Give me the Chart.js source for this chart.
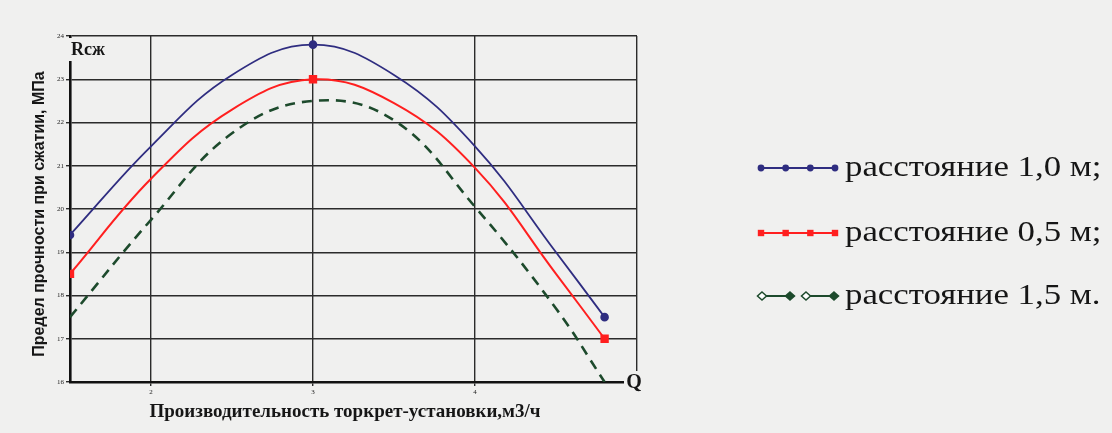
<!DOCTYPE html>
<html lang="ru">
<head>
<meta charset="utf-8">
<title>Предел прочности при сжатии</title>
<script src="https://cdn.jsdelivr.net/npm/chart.js@4.4.1/dist/chart.umd.min.js"></script>
<style>
  html, body { margin: 0; padding: 0; background: #f0f0ef; }
  #wrap { width: 1112px; height: 433px; }
</style>
</head>
<body>
<div id="wrap"><canvas id="c" width="1112" height="433"></canvas></div>
<script>
// Производительность торкрет-установки, м3/ч
const productivity = [1.5, 2, 2.5, 3, 3.5, 4, 4.5, 4.8];
// Предел прочности при сжатии, МПа
const dist10 = [19.4, 21.45, 23.1, 23.8, 23.1, 21.45, 19.0, 17.5];
const dist05 = [18.5, 20.7, 22.3, 23.0, 22.45, 20.95, 18.5, 17.0];
const dist15 = [17.5, 19.75, 21.75, 22.5, 22.05, 20.05, 17.7, 16.0];
const seriesLabels = ['расстояние 1,0 м;', 'расстояние 0,5 м;', 'расстояние 1,5 м.'];
// points that carry a marker on the curve
const markedIdx = [0, 3, 7];
const xTickValues = [2, 3, 4, 5];
const xTickLabels = ['2', '3', '4', ''];
const yMin = 16, yMax = 24, xMin = 1.5, xMax = 5;

const BG = '#f0f0ef';
const BLUE = '#2f2d80';
const RED = '#ff1f1f';
const GREEN = '#1d4a2c';
const INK = '#161616';

const pts = ys => ys.map((y, i) => ({ x: productivity[i], y }));
const radii = r => productivity.map((_, i) => markedIdx.includes(i) ? r : 0);

// background, captions, axis letters and the side legend
const decor = {
  id: 'decor',
  beforeDraw(chart) {
    const ctx = chart.ctx;
    ctx.save();
    ctx.fillStyle = BG;
    ctx.fillRect(0, 0, chart.width, chart.height);
    ctx.restore();
  },
  afterDraw(chart) {
    const ctx = chart.ctx;
    const a = chart.chartArea;
    ctx.save();

    // "Rсж" in the upper-left corner, over the axis line
    ctx.fillStyle = BG;
    ctx.fillRect(a.left - 4, a.top + 2, 46, 23);
    ctx.fillStyle = INK;
    ctx.font = 'bold 18px "Liberation Serif", serif';
    ctx.textAlign = 'left';
    ctx.textBaseline = 'alphabetic';
    ctx.fillText('Rсж', a.left + 1, a.top + 19);

    // "Q" at the end of the horizontal axis
    ctx.fillStyle = BG;
    ctx.fillRect(a.right - 13, a.bottom - 11, 24, 22);
    ctx.fillStyle = INK;
    ctx.font = 'bold 20px "Liberation Serif", serif';
    ctx.textAlign = 'center';
    ctx.textBaseline = 'middle';
    ctx.fillText('Q', a.right - 3, a.bottom + 1);

    // axis captions
    ctx.font = 'bold 19px "Liberation Serif", serif';
    ctx.textAlign = 'center';
    ctx.textBaseline = 'middle';
    ctx.fillText('Производительность торкрет-установки,м3/ч', 345, 412);

    ctx.save();
    ctx.translate(40, 214);
    ctx.rotate(-Math.PI / 2);
    ctx.font = 'bold 16px "Liberation Sans Narrow", "Liberation Sans", sans-serif';
    ctx.fillText('Предел прочности при сжатии, МПа', 0, 0);
    ctx.restore();

    // legend
    const rows = [168, 233, 296];
    const x0 = 758, x1 = 838;
    chart.data.datasets.forEach((ds, i) => {
      const y = rows[i];
      ctx.strokeStyle = ds.borderColor;
      ctx.fillStyle = ds.borderColor;
      ctx.lineWidth = 2.2;
      ctx.setLineDash([]);
      if (i === 2) {
        const segs = [[x0, x0 + 36], [x0 + 44, x1]];
        segs.forEach(([s, e]) => {
          ctx.beginPath(); ctx.moveTo(s, y); ctx.lineTo(e, y); ctx.stroke();
          [[s + 4, false], [e - 4, true]].forEach(([cx, filled]) => {
            ctx.beginPath();
            ctx.moveTo(cx, y - 4); ctx.lineTo(cx + 4.5, y); ctx.lineTo(cx, y + 4); ctx.lineTo(cx - 4.5, y); ctx.closePath();
            ctx.fillStyle = filled ? ds.borderColor : '#ffffff';
            ctx.fill();
            ctx.lineWidth = 1.5;
            ctx.stroke();
            ctx.lineWidth = 2.2;
          });
        });
      } else {
        ctx.beginPath(); ctx.moveTo(x0, y); ctx.lineTo(x1, y); ctx.stroke();
        for (let k = 0; k < 4; k++) {
          const cx = x0 + 3 + k * (x1 - x0 - 6) / 3;
          ctx.beginPath();
          if (i === 0) { ctx.arc(cx, y, 3.4, 0, Math.PI * 2); }
          else { ctx.rect(cx - 3.2, y - 3.2, 6.4, 6.4); }
          ctx.fill();
        }
      }
      ctx.save();
      ctx.translate(x1 + 7, y);
      ctx.scale(1.16, 1);
      ctx.fillStyle = INK;
      ctx.font = '30px "Liberation Serif", serif';
      ctx.textAlign = 'left';
      ctx.textBaseline = 'middle';
      ctx.fillText(ds.label, 0, 0);
      ctx.restore();
    });

    ctx.restore();
  }
};

new Chart(document.getElementById('c'), {
  type: 'line',
  data: {
    datasets: [
      {
        label: seriesLabels[0],
        data: pts(dist10),
        borderColor: BLUE,
        backgroundColor: BLUE,
        borderWidth: 1.8,
        pointRadius: radii(3.4),
        pointStyle: 'circle',
        tension: 0.4
      },
      {
        label: seriesLabels[1],
        data: pts(dist05),
        borderColor: RED,
        backgroundColor: RED,
        borderWidth: 2,
        pointRadius: radii(4.5),
        pointStyle: 'rect',
        tension: 0.4
      },
      {
        label: seriesLabels[2],
        data: pts(dist15),
        borderColor: GREEN,
        backgroundColor: GREEN,
        borderWidth: 2.6,
        borderDash: [10, 7],
        pointRadius: 0,
        tension: 0.4
      }
    ]
  },
  options: {
    responsive: false,
    animation: false,
    devicePixelRatio: 1,
    layout: { padding: { left: 0, top: 36, right: 475, bottom: 0 } },
    plugins: { legend: { display: false }, tooltip: { enabled: false } },
    scales: {
      x: {
        type: 'linear',
        min: xMin,
        max: xMax,
        afterBuildTicks: s => { s.ticks = xTickValues.map(v => ({ value: v })); },
        afterFit: s => { s.height = 51; },
        ticks: {
          callback: (v) => xTickLabels[xTickValues.indexOf(v)] ?? '',
          font: { family: '"Liberation Serif", serif', size: 7 },
          color: '#222',
          padding: 2,
          maxRotation: 0
        },
        grid: { color: '#2b2b2b', lineWidth: 1.4, drawTicks: true, tickLength: 4 },
        border: { color: '#111', width: 2.6 }
      },
      y: {
        min: yMin,
        max: yMax,
        afterFit: s => { s.width = 70; },
        ticks: {
          stepSize: 1,
          font: { family: '"Liberation Serif", serif', size: 7 },
          color: '#222',
          padding: 2
        },
        grid: { color: '#2b2b2b', lineWidth: 1.4, drawTicks: true, tickLength: 4 },
        border: { color: '#111', width: 2.6 }
      }
    }
  },
  plugins: [decor]
});
</script>
</body>
</html>
